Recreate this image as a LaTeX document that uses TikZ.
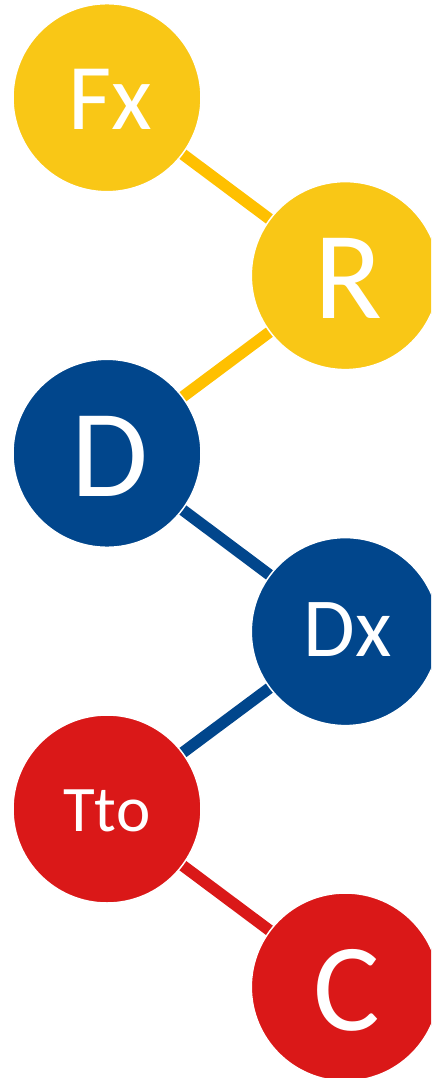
\documentclass[tikz,border=0pt]{standalone}
\usepackage{fontspec}
\setmainfont{Carlito}
\usetikzlibrary{backgrounds}
\definecolor{yel}{HTML}{F9C716}
\definecolor{yelline}{HTML}{FFC000}
\definecolor{blu}{HTML}{01468C}
\definecolor{redc}{HTML}{DA1818}
\begin{document}
\begin{tikzpicture}[x=1pt,y=-1pt,
  ball/.style={circle, minimum size=188pt, inner sep=0pt, draw=white, line width=1.5pt, text=white},
  link/.style={line width=11.5pt}]
\useasboundingbox (0,0) rectangle (431,1078);
\clip (0,0) rectangle (431,1078);
\node[ball, fill=yel] (fx) at (107,97.7) {};
\node[text=white, font=\fontsize{94}{94}\selectfont] at (110,99.7) {Fx};
\node[ball, fill=yel] (r) at (345.3,275.6) {};
\node[text=white, font=\fontsize{125}{125}\selectfont] at (348.5,278) {R};
\node[ball, fill=blu] (d) at (107,453.3) {};
\node[text=white, font=\fontsize{125}{125}\selectfont] at (109.5,456) {D};
\node[ball, fill=blu] (dx) at (345.3,631.6) {};
\node[text=white, font=\fontsize{84}{84}\selectfont] at (347.5,630) {Dx};
\node[ball, fill=redc] (tto) at (107,809) {};
\node[text=white, font=\fontsize{65}{65}\selectfont] at (106.7,810.8) {Tto};
\node[ball, fill=redc] (c) at (345.3,987) {};
\node[text=white, font=\fontsize{125}{125}\selectfont] at (346.7,990) {C};
\begin{scope}[on background layer]
\draw[link, yelline] (fx.center) -- (r.center);
\draw[link, yelline] (r.center) -- (d.center);
\draw[link, blu] (d.center) -- (dx.center);
\draw[link, blu] (dx.center) -- (tto.center);
\draw[link, redc] (tto.center) -- (c.center);
\end{scope}
\end{tikzpicture}
\end{document}
